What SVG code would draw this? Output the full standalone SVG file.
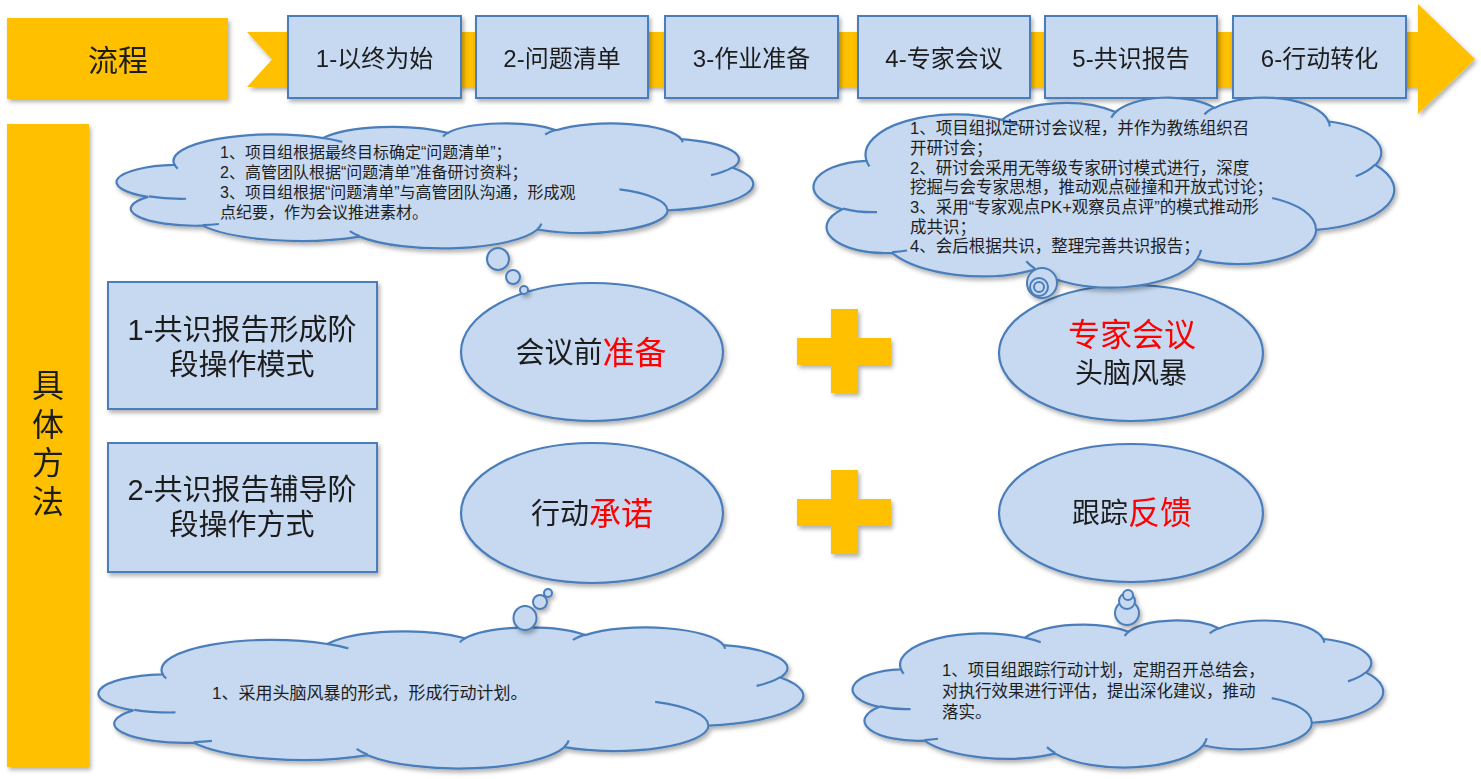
<svg xmlns="http://www.w3.org/2000/svg" xmlns:xlink="http://www.w3.org/1999/xlink" width="1481" height="779" viewBox="0 0 1481 779">
<style>
text{font-family:"Liberation Sans","Noto Sans CJK SC",sans-serif;fill:#1e1e1e;dominant-baseline:central}
.org{fill:#FFC000}
.box{fill:#C6D9F1;stroke:#4A7EBB;stroke-width:2}
.ell{fill:#C6D9F1;stroke:#4A7EBB;stroke-width:2.2}
.cf{fill:#C6D9F1;stroke:#4A7EBB;stroke-width:2.2;vector-effect:non-scaling-stroke}
.ci{fill:none;stroke:#4A7EBB;stroke-width:2.2;vector-effect:non-scaling-stroke}
.bub{fill:#C6D9F1;stroke:#4A7EBB;stroke-width:2}
.step{font-size:24px;text-anchor:middle}
.mode{font-size:29px;text-anchor:middle}
.red{fill:#FF0000}
</style>
<defs>
<filter id="sh" x="-10%" y="-10%" width="130%" height="140%">
<feDropShadow dx="2" dy="3" stdDeviation="2" flood-color="#000" flood-opacity="0.3"/>
</filter>
<g id="cloud">
<path class="cf" d="M9.028 33.264 A15.632 21.273 0 0 1 32.418 12.041 A12.345 16.822 0 0 1 51.979 7.944 A10.104 13.762 0 0 1 69.058 5.742 A11.243 15.266 0 0 1 88.699 12.907 A12.345 16.836 0 0 1 96.802 35.786 A15.683 21.343 0 0 1 86.584 69.911 A13.391 18.211 0 0 1 66.101 85.212 A15.630 21.331 0 0 1 38.148 90.888 A17.870 24.405 0 0 1 13.436 82.099 A10.093 13.699 0 0 1 4.891 59.132 A10.058 13.762 0 0 1 8.942 33.568 Z"/>
<path class="ci" d="M10.863 60.595 A10.058 13.762 0 0 1 5.000 58.750 M16.037 80.785 A10.093 13.699 0 0 1 13.471 81.668 M38.144 90.486 A15.630 21.331 0 0 1 36.597 86.456 M66.729 80.442 A15.630 21.331 0 0 1 66.113 84.859 M79.002 53.134 A13.391 18.211 0 0 1 86.530 69.652 M96.755 35.542 A12.345 16.836 0 0 1 93.403 41.736 M88.713 12.560 A11.243 15.266 0 0 1 88.890 15.485 M67.310 9.148 A11.243 15.266 0 0 1 69.028 5.415 M51.252 10.926 A10.104 13.762 0 0 1 52.083 7.712 M32.407 12.019 A15.632 21.273 0 0 1 35.418 15.141 M9.553 36.549 A15.632 21.273 0 0 1 9.028 33.265"/>
</g>
</defs>
<rect width="1481" height="779" fill="#FFFFFF"/>

<g id="flow-label" filter="url(#sh)">
<rect class="org" x="7" y="18" width="221" height="81"/>
<text x="118" y="60" font-size="30" text-anchor="middle">流程</text>
</g>

<g id="flow-arrow" filter="url(#sh)">
<polygon class="org" points="247,32 1418,32 1418,4 1475,59 1418,114 1418,87 247,87 272,59.5"/>
</g>

<g id="step1" filter="url(#sh)"><rect class="box" x="288" y="16" width="173" height="82"/><text class="step" x="374.5" y="58">1-以终为始</text></g>
<g id="step2" filter="url(#sh)"><rect class="box" x="476" y="16" width="172" height="82"/><text class="step" x="562" y="58">2-问题清单</text></g>
<g id="step3" filter="url(#sh)"><rect class="box" x="665" y="16" width="173" height="82"/><text class="step" x="751.5" y="58">3-作业准备</text></g>
<g id="step4" filter="url(#sh)"><rect class="box" x="858" y="16" width="172" height="82"/><text class="step" x="944" y="58">4-专家会议</text></g>
<g id="step5" filter="url(#sh)"><rect class="box" x="1045" y="16" width="172" height="82"/><text class="step" x="1131" y="58">5-共识报告</text></g>
<g id="step6" filter="url(#sh)"><rect class="box" x="1233" y="16" width="173" height="82"/><text class="step" x="1319.5" y="58">6-行动转化</text></g>

<g id="method-label" filter="url(#sh)">
<rect class="org" x="7" y="124" width="82" height="643"/>
<text x="48" y="386" font-size="32" text-anchor="middle">具</text>
<text x="48" y="425" font-size="32" text-anchor="middle">体</text>
<text x="48" y="463" font-size="32" text-anchor="middle">方</text>
<text x="48" y="502" font-size="32" text-anchor="middle">法</text>
</g>

<g id="mode1" filter="url(#sh)">
<rect class="box" x="108" y="282" width="269" height="127"/>
<text class="mode" x="242" y="330">1-共识报告形成阶</text>
<text class="mode" x="242" y="365">段操作模式</text>
</g>
<g id="mode2" filter="url(#sh)">
<rect class="box" x="108" y="443" width="269" height="129"/>
<text class="mode" x="242" y="490">2-共识报告辅导阶</text>
<text class="mode" x="242" y="525">段操作方式</text>
</g>

<g id="prep" filter="url(#sh)">
<ellipse class="ell" cx="592" cy="352" rx="131" ry="69"/>
<text x="591" y="353" text-anchor="middle"><tspan font-size="29">会议前</tspan><tspan class="red" font-size="32">准备</tspan></text>
</g>
<g id="commit" filter="url(#sh)">
<ellipse class="ell" cx="592" cy="513" rx="131" ry="70"/>
<text x="592" y="514" text-anchor="middle"><tspan font-size="29">行动</tspan><tspan class="red" font-size="32">承诺</tspan></text>
</g>
<g id="expert" filter="url(#sh)">
<ellipse class="ell" cx="1131" cy="353" rx="132" ry="68"/>
<text class="red" x="1132" y="335" font-size="32" text-anchor="middle">专家会议</text>
<text x="1131" y="373" font-size="28" text-anchor="middle">头脑风暴</text>
</g>
<g id="feedback" filter="url(#sh)">
<ellipse class="ell" cx="1131" cy="513" rx="132" ry="69"/>
<text x="1132" y="513" text-anchor="middle"><tspan font-size="28">跟踪</tspan><tspan class="red" font-size="32">反馈</tspan></text>
</g>

<g id="plus1" filter="url(#sh)">
<polygon class="org" points="831,309 858,309 858,338 891,338 891,365 858,365 858,393 831,393 831,365 797,365 797,338 831,338"/>
</g>
<g id="plus2" filter="url(#sh)">
<polygon class="org" points="831,470 858,470 858,499 891,499 891,526 858,526 858,554 831,554 831,526 797,526 797,499 831,499"/>
</g>

<g id="cloud-prep">
<g filter="url(#sh)"><use xlink:href="#cloud" href="#cloud" transform="translate(117 123) scale(6.36 1.25)"/></g>
<text x="220" y="152" font-size="16">1、项目组根据最终目标确定“问题清单”；</text>
<text x="220" y="172" font-size="16">2、高管团队根据“问题清单”准备研讨资料；</text>
<text x="220" y="192" font-size="16">3、项目组根据“问题清单”与高管团队沟通，形成观</text>
<text x="220" y="212" font-size="16">点纪要，作为会议推进素材。</text>
</g>

<g id="cloud-expert">
<g filter="url(#sh)"><use xlink:href="#cloud" href="#cloud" transform="translate(814 97) scale(5.80 1.90)"/></g>
<text x="910" y="128" font-size="16.5">1、项目组拟定研讨会议程，并作为教练组织召</text>
<text x="910" y="148" font-size="16.5">开研讨会；</text>
<text x="910" y="168" font-size="16.5">2、研讨会采用无等级专家研讨模式进行，深度</text>
<text x="910" y="187" font-size="16.5">挖掘与会专家思想，推动观点碰撞和开放式讨论；</text>
<text x="910" y="207" font-size="16.5">3、采用“专家观点PK+观察员点评”的模式推动形</text>
<text x="910" y="227" font-size="16.5">成共识；</text>
<text x="910" y="246" font-size="16.5">4、会后根据共识，整理完善共识报告；</text>
</g>

<g id="cloud-commit">
<g filter="url(#sh)"><use xlink:href="#cloud" href="#cloud" transform="translate(99 627) scale(7.04 1.41)"/></g>
<text x="212" y="693" font-size="17">1、采用头脑风暴的形式，形成行动计划。</text>
</g>

<g id="cloud-feedback">
<g filter="url(#sh)"><use xlink:href="#cloud" href="#cloud" transform="translate(853 620) scale(5.30 1.47)"/></g>
<text x="942" y="670" font-size="16.5">1、项目组跟踪行动计划，定期召开总结会，</text>
<text x="942" y="691" font-size="16.5">对执行效果进行评估，提出深化建议，推动</text>
<text x="942" y="712" font-size="16.5">落实。</text>
</g>

<g id="connectors" filter="url(#sh)">
<circle class="bub" cx="498" cy="259" r="11"/>
<circle class="bub" cx="513" cy="277" r="7"/>
<circle class="bub" cx="524" cy="290" r="4"/>
<circle class="bub" cx="1042" cy="283" r="15"/>
<circle class="bub" cx="1039" cy="287" r="9"/>
<circle class="bub" cx="1039" cy="287" r="5"/>
<ellipse class="bub" cx="525" cy="618" rx="11.5" ry="12"/>
<circle class="bub" cx="540" cy="602" r="7"/>
<circle class="bub" cx="548" cy="593" r="4"/>
<circle class="bub" cx="1127" cy="613" r="12"/>
<circle class="bub" cx="1127" cy="601" r="8"/>
<circle class="bub" cx="1128" cy="595" r="5"/>
</g>
</svg>
